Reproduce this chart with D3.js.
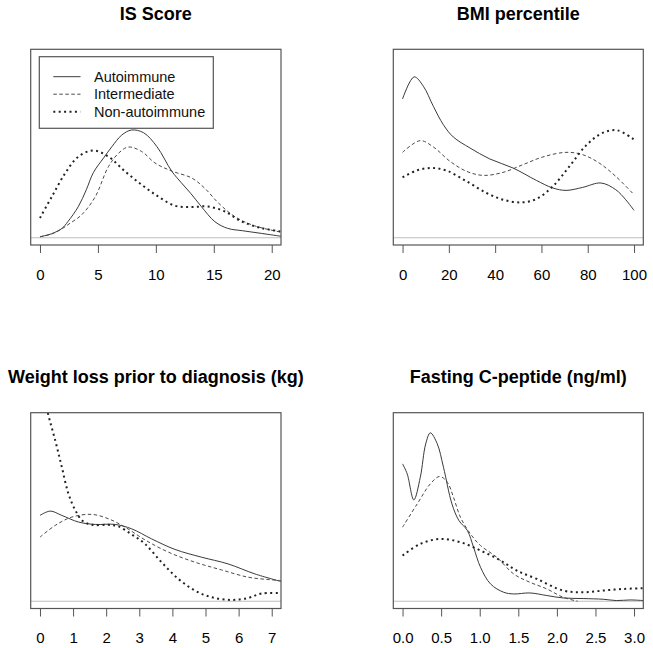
<!DOCTYPE html>
<html>
<head>
<meta charset="utf-8">
<script src="https://cdn.jsdelivr.net/npm/d3@7"></script>
<style>
  html, body { margin: 0; padding: 0; background: #fff; }
  svg { display: block; font-family: "Liberation Sans", Arial, sans-serif; }
</style>
</head>
<body>
<svg id="chart" width="653" height="648"></svg>
<script>
// ---------------- DATA ----------------
const seriesNames = ["Autoimmune", "Intermediate", "Non-autoimmune"];
const panelTitles = ["IS Score", "BMI percentile", "Weight loss prior to diagnosis (kg)", "Fasting C-peptide (ng/ml)"];

const isTicks = [0, 5, 10, 15, 20];
const bmiTicks = [0, 20, 40, 60, 80, 100];
const wlTicks = [0, 1, 2, 3, 4, 5, 6, 7];
const cpTicks = [0, 0.5, 1.0, 1.5, 2.0, 2.5, 3.0];

// IS Score densities
const isAutoX = [0, 1, 1.9, 2.4, 3.3, 4.0, 4.6, 5.5, 6.2, 7.06, 7.9, 8.95, 10.1, 11.36, 12.2, 13.0, 13.94, 15.1, 16.2, 17.5, 19.1, 20.8];
const isAutoY = [0.0008, 0.0032, 0.0075, 0.0128, 0.0248, 0.0384, 0.052, 0.064, 0.0728, 0.0822, 0.0862, 0.084, 0.0728, 0.0534, 0.044, 0.0356, 0.0248, 0.0128, 0.0075, 0.0056, 0.0035, 0.0012];
const isInterX = [0, 1, 1.9, 2.5, 3.6, 4.77, 5.9, 6.8, 7.63, 8.78, 9.93, 11.36, 13.1, 14.2, 15.4, 16.8, 18.5, 20.8];
const isInterY = [0.0008, 0.003, 0.0072, 0.011, 0.0184, 0.0328, 0.0568, 0.0678, 0.0726, 0.069, 0.0598, 0.0534, 0.0478, 0.0398, 0.0278, 0.017, 0.0096, 0.0045];
const isNonX = [0, 1.03, 2.19, 3.33, 4.62, 5.9, 7.35, 8.78, 10.2, 11.65, 13.1, 14.5, 15.96, 17.4, 19.1, 20.8];
const isNonY = [0.0158, 0.033, 0.0518, 0.065, 0.0698, 0.065, 0.053, 0.0424, 0.033, 0.0256, 0.0246, 0.025, 0.021, 0.013, 0.0078, 0.005];

// BMI percentile densities
const bmiAutoX = [0, 5, 9, 13.3, 17.6, 21.9, 29.1, 37.7, 47.7, 57.8, 64.9, 70.6, 77.8, 85.7, 92.1, 96.4, 100];
const bmiAutoY = [0.01387, 0.01607, 0.01513, 0.01313, 0.0113, 0.01007, 0.00897, 0.00787, 0.00697, 0.00573, 0.00497, 0.00473, 0.00503, 0.00547, 0.0048, 0.0038, 0.00273];
const bmiInterX = [0, 7.6, 13.3, 20.5, 27.7, 34.8, 43.4, 52, 60.6, 70.6, 77.8, 84.9, 92.1, 100];
const bmiInterY = [0.00853, 0.0097, 0.00907, 0.00763, 0.00663, 0.00623, 0.00653, 0.0073, 0.00807, 0.00853, 0.0083, 0.00747, 0.00613, 0.0043];
const bmiNonX = [0, 6.2, 12.6, 19.1, 27.7, 36.3, 43.4, 51.3, 57.8, 64.9, 72.1, 79.2, 86.4, 92.8, 100];
const bmiNonY = [0.00603, 0.00673, 0.00697, 0.0067, 0.00563, 0.00447, 0.0038, 0.00353, 0.00387, 0.00513, 0.00713, 0.0092, 0.01047, 0.01073, 0.0098];

// Weight loss densities
const wlAutoX = [0, 0.31, 0.66, 1.17, 1.67, 2.27, 2.77, 3.37, 4.08, 4.88, 5.68, 6.49, 7.28];
const wlAutoY = [0.1714, 0.18, 0.1714, 0.158, 0.1534, 0.1534, 0.1446, 0.1246, 0.1034, 0.088, 0.0746, 0.0546, 0.0394];
const wlInterX = [0, 0.46, 0.96, 1.57, 2.07, 2.57, 3.17, 3.88, 4.68, 5.48, 6.29, 6.89, 7.28];
const wlInterY = [0.128, 0.1514, 0.168, 0.1734, 0.1646, 0.148, 0.1226, 0.098, 0.078, 0.0626, 0.048, 0.0434, 0.0414];
const wlNonX = [0, 0.23, 0.46, 0.66, 0.86, 1.07, 1.27, 1.57, 2.07, 2.37, 2.77, 3.17, 3.67, 4.18, 4.68, 5.18, 5.78, 6.29, 6.69, 7.28];
const wlNonY = [0.45, 0.378, 0.3214, 0.268, 0.2146, 0.1814, 0.1614, 0.1526, 0.1526, 0.1494, 0.1334, 0.1146, 0.078, 0.0446, 0.0214, 0.008, 0.0026, 0.0066, 0.0154, 0.016];

// Fasting C-peptide densities
const cpAutoX = [0, 0.06, 0.146, 0.23, 0.30, 0.36, 0.45, 0.53, 0.64, 0.73, 0.84, 0.92, 1.01, 1.14, 1.31, 1.44, 1.65, 1.87, 2.08, 2.34, 2.60, 2.77, 2.95, 3.12];
const cpAutoY = [1.373, 1.273, 1.013, 1.24, 1.573, 1.683, 1.573, 1.34, 0.973, 0.807, 0.707, 0.54, 0.34, 0.173, 0.09, 0.073, 0.083, 0.057, 0.033, 0.027, 0.02, 0.007, 0.013, 0.007];
const cpInterX = [0, 0.19, 0.36, 0.48, 0.58, 0.66, 0.75, 0.88, 1.01, 1.22, 1.44, 1.65, 1.87, 2.08, 2.27];
const cpInterY = [0.74, 0.973, 1.173, 1.247, 1.19, 1.04, 0.84, 0.673, 0.557, 0.44, 0.273, 0.19, 0.123, 0.04, 0];
const cpNonX = [0, 0.23, 0.49, 0.75, 1.01, 1.27, 1.48, 1.74, 2.08, 2.34, 2.6, 2.86, 3.12];
const cpNonY = [0.457, 0.573, 0.623, 0.59, 0.507, 0.407, 0.307, 0.223, 0.107, 0.09, 0.107, 0.123, 0.13];

// axis limits (as in the original plot calls)
const isXlim = [0, 20], bmiXlim = [0, 100], wlXlim = [0, 7], cpXlim = [0, 3];
const isYmax = 0.145, bmiYmax = 0.0181, wlYmax = 0.362, cpYmax = 1.812;

// ---------------- LAYOUT / STYLE ----------------
const boxes = [
  { l: 30.7, t: 49.3, r: 281, b: 245 },
  { l: 393.3, t: 49.3, r: 643.3, b: 245 },
  { l: 30.7, t: 412.7, r: 281, b: 608.5 },
  { l: 393.3, t: 412.7, r: 643.3, b: 608.5 }
];
const styles = [
  { stroke: "#3a3a3a", width: 1, dash: null },
  { stroke: "#4a4a4a", width: 1, dash: "3.5,2.5" },
  { stroke: "#222", width: 2, dash: "2,3.4" }
];

const panels = [
  { title: panelTitles[0], xlim: isXlim, ymax: isYmax, ticks: isTicks, fmt: d3.format("d"),
    series: [[isAutoX, isAutoY], [isInterX, isInterY], [isNonX, isNonY]], legend: true },
  { title: panelTitles[1], xlim: bmiXlim, ymax: bmiYmax, ticks: bmiTicks, fmt: d3.format("d"),
    series: [[bmiAutoX, bmiAutoY], [bmiInterX, bmiInterY], [bmiNonX, bmiNonY]] },
  { title: panelTitles[2], xlim: wlXlim, ymax: wlYmax, ticks: wlTicks, fmt: d3.format("d"),
    series: [[wlAutoX, wlAutoY], [wlInterX, wlInterY], [wlNonX, wlNonY]] },
  { title: panelTitles[3], xlim: cpXlim, ymax: cpYmax, ticks: cpTicks, fmt: d3.format(".1f"),
    series: [[cpAutoX, cpAutoY], [cpInterX, cpInterY], [cpNonX, cpNonY]] }
];

const svg = d3.select("#chart");
const boxColor = "#555";

panels.forEach((p, i) => {
  const bx = boxes[i];
  const xr = p.xlim[1] - p.xlim[0];
  const x = d3.scaleLinear()
    .domain([p.xlim[0] - 0.04 * xr, p.xlim[1] + 0.04 * xr])
    .range([bx.l, bx.r]);
  const y = d3.scaleLinear()
    .domain([-0.04 * p.ymax, 1.04 * p.ymax])
    .range([bx.b, bx.t]);

  const g = svg.append("g");
  const clipId = "clip" + i;
  svg.append("clipPath").attr("id", clipId)
    .append("rect").attr("x", bx.l).attr("y", bx.t)
    .attr("width", bx.r - bx.l).attr("height", bx.b - bx.t);

  // zero line
  g.append("line")
    .attr("x1", bx.l).attr("x2", bx.r)
    .attr("y1", y(0)).attr("y2", y(0))
    .attr("stroke", "#bebebe").attr("stroke-width", 1);

  // curves
  const line = d3.line()
    .x(d => x(d[0])).y(d => y(d[1]))
    .curve(d3.curveCatmullRom.alpha(0.5));
  const cg = g.append("g").attr("clip-path", `url(#${clipId})`);
  p.series.forEach((s, k) => {
    const pts = s[0].map((v, j) => [v, s[1][j]]);
    const st = styles[k];
    cg.append("path")
      .attr("d", line(pts))
      .attr("fill", "none")
      .attr("stroke", st.stroke)
      .attr("stroke-width", st.width)
      .attr("stroke-dasharray", st.dash)
      .attr("stroke-linejoin", "round");
  });

  // box
  g.append("rect")
    .attr("x", bx.l).attr("y", bx.t)
    .attr("width", bx.r - bx.l).attr("height", bx.b - bx.t)
    .attr("fill", "none").attr("stroke", boxColor).attr("stroke-width", 1.2);

  // x axis
  const ax = g.append("g")
    .attr("transform", `translate(0,${bx.b})`)
    .call(d3.axisBottom(x).tickValues(p.ticks).tickFormat(p.fmt).tickSize(8).tickPadding(0));
  ax.select(".domain").remove();
  ax.selectAll(".tick line").attr("stroke", boxColor).attr("stroke-width", 1);
  ax.selectAll(".tick text")
    .attr("y", 34.5).attr("dy", 0)
    .attr("fill", "#000")
    .style("font-size", "15px")
    .style("font-family", "'Liberation Sans', Arial, sans-serif");

  // title
  g.append("text")
    .attr("x", (bx.l + bx.r) / 2)
    .attr("y", bx.t - 29.8)
    .attr("text-anchor", "middle")
    .attr("fill", "#000")
    .style("font-size", "18px")
    .style("font-weight", "bold")
    .text(p.title);

  // legend
  if (p.legend) {
    const lg = g.append("g");
    lg.append("rect")
      .attr("x", 39.3).attr("y", 56.7).attr("width", 174).attr("height", 71.6)
      .attr("fill", "#fff").attr("stroke", boxColor).attr("stroke-width", 1.2);
    const rowsY = [76.7, 94.2, 111.7];
    seriesNames.forEach((name, k) => {
      const st = styles[k];
      lg.append("line")
        .attr("x1", 53.3).attr("x2", 80.5)
        .attr("y1", rowsY[k]).attr("y2", rowsY[k])
        .attr("stroke", st.stroke).attr("stroke-width", st.width)
        .attr("stroke-dasharray", st.dash);
      lg.append("text")
        .attr("x", 94).attr("y", rowsY[k])
        .attr("dy", "0.35em")
        .attr("fill", "#111")
        .style("font-size", "14.5px")
        .text(name);
    });
  }
});
</script>
</body>
</html>
